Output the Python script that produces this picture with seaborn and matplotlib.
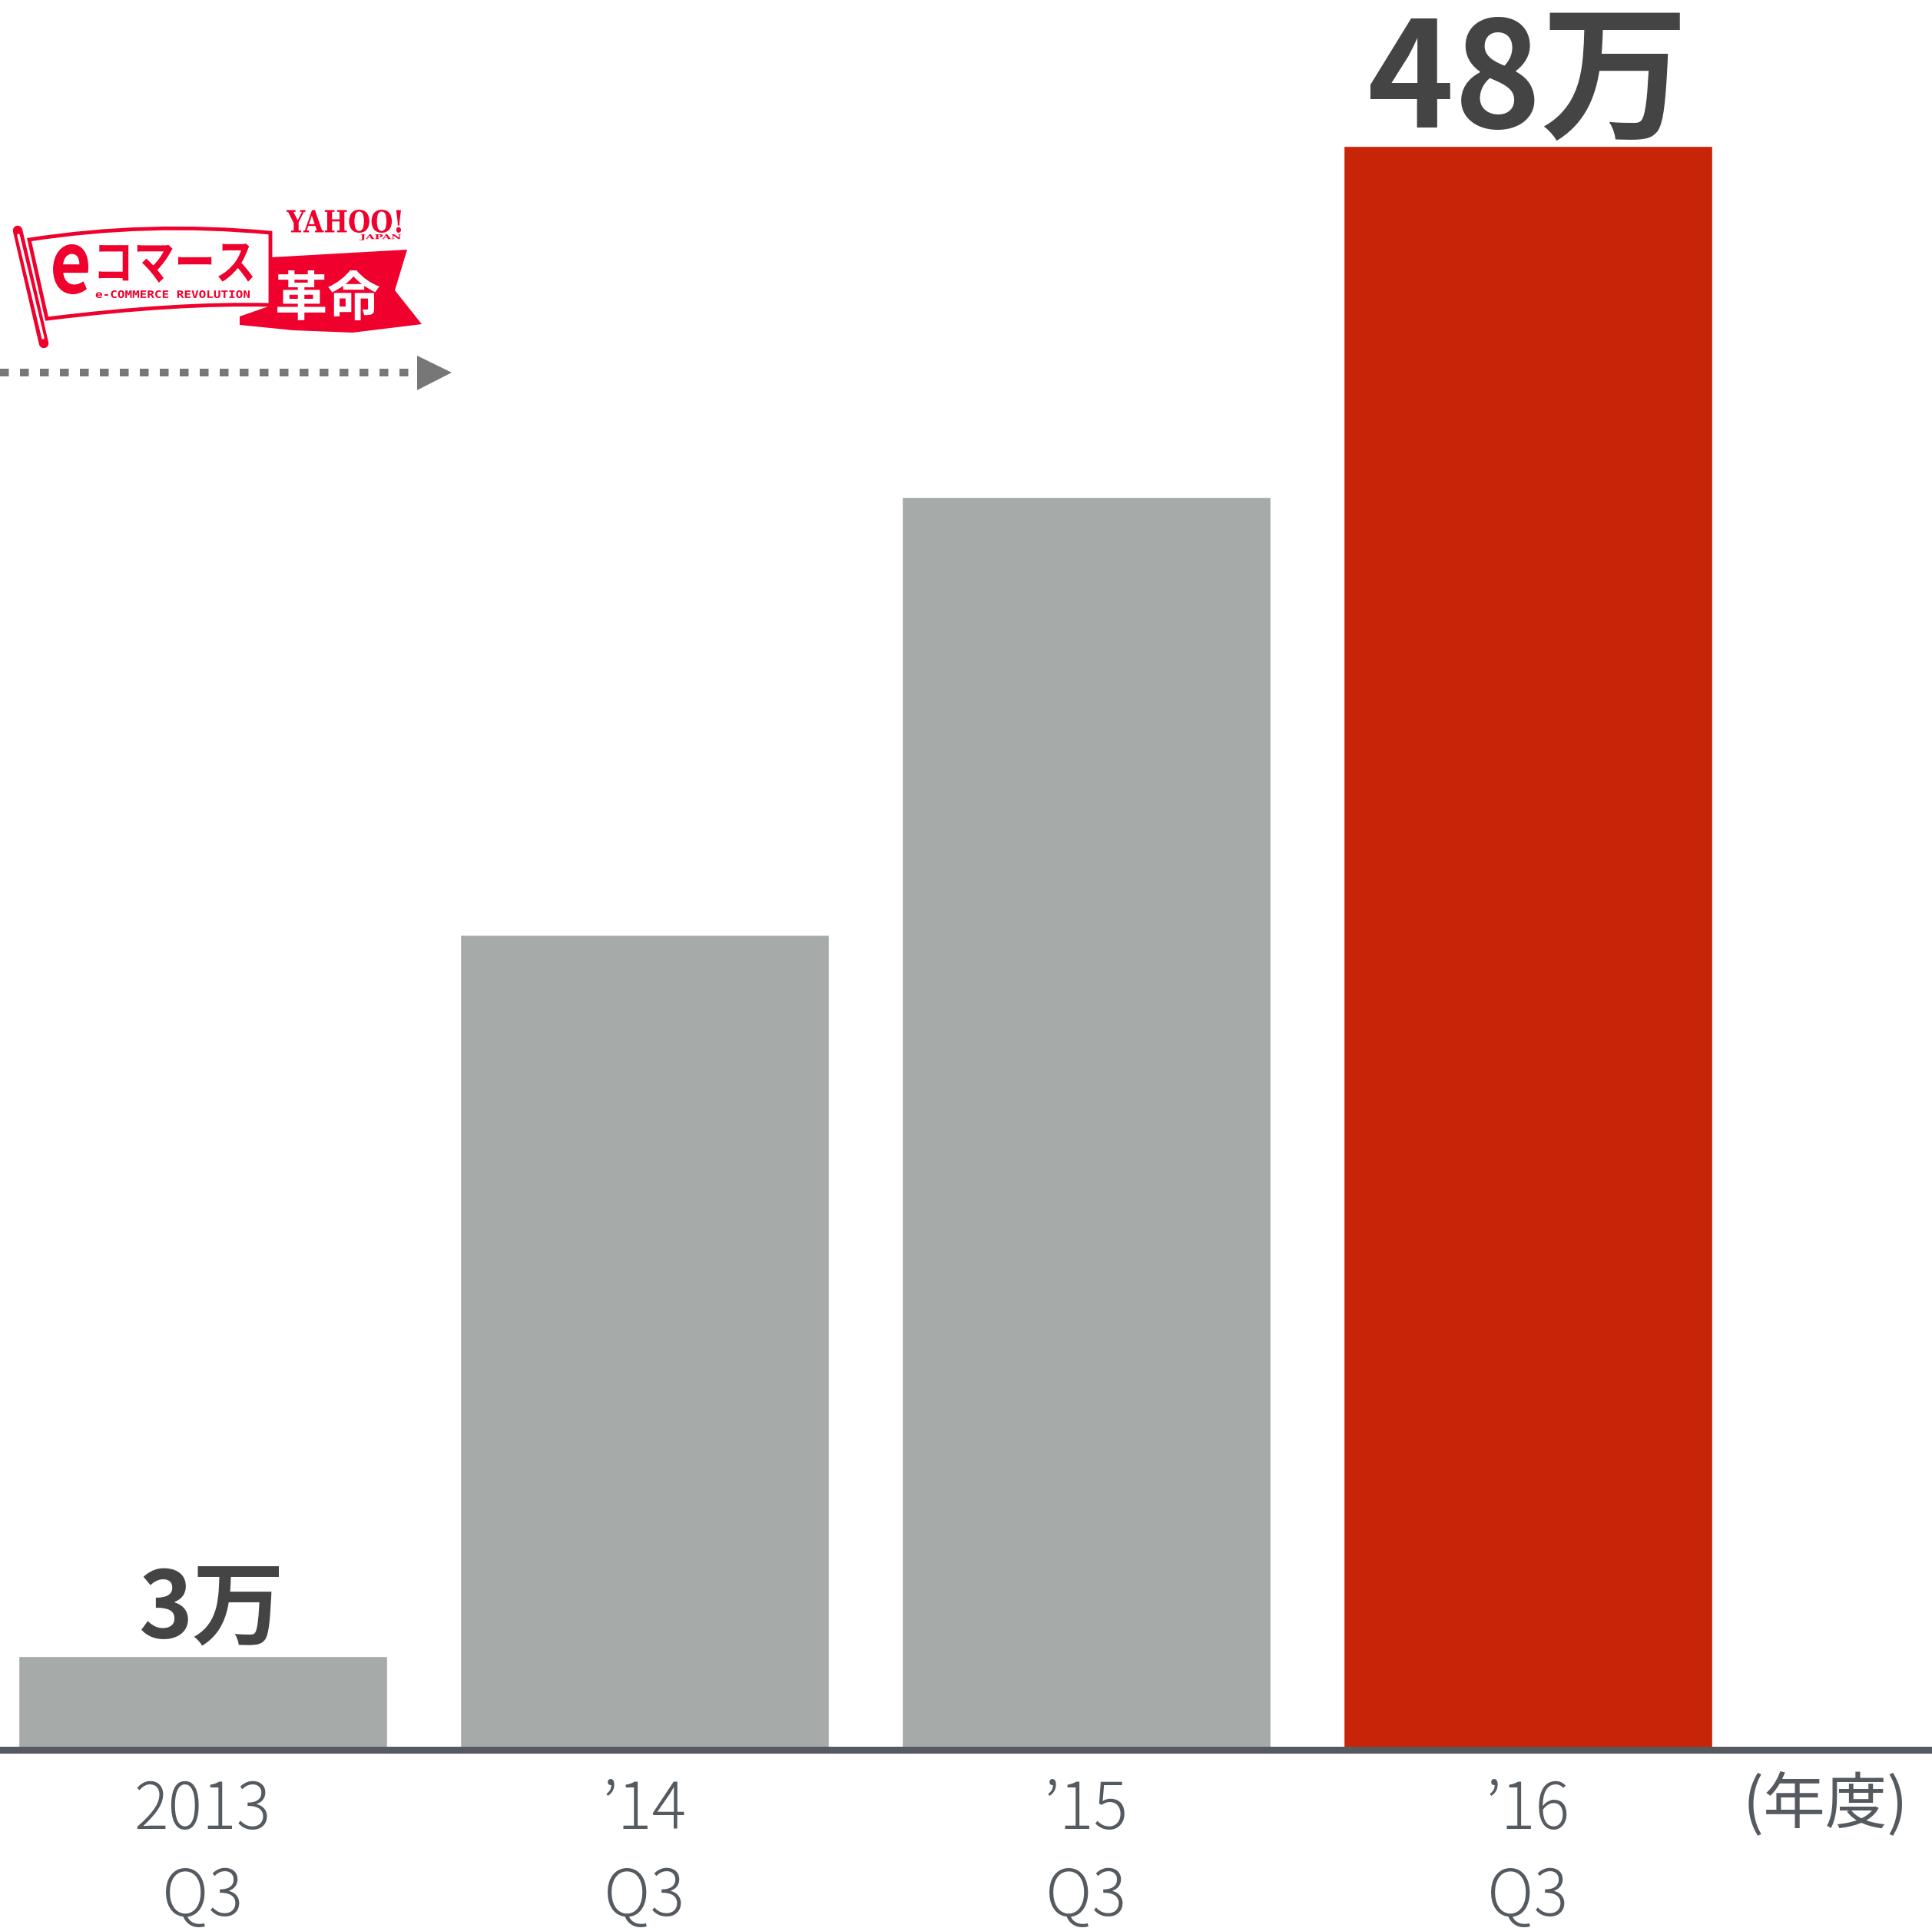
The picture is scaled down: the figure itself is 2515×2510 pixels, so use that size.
import matplotlib
matplotlib.use("Agg")
import matplotlib.pyplot as plt
import seaborn as sns
import pandas as pd
import numpy as np
from matplotlib.patches import Polygon, PathPatch
from matplotlib.path import Path
from matplotlib.textpath import TextPath
from matplotlib.font_manager import FontProperties

# ---- data ----
categories = ["2013\nQ3", "\u201914\nQ3", "\u201915\nQ3", "\u201916\nQ3"]
values = [2.8, 24.4, 37.5, 48.0]
bar_colors = ["#a6aaa9", "#a6aaa9", "#a6aaa9", "#c82408"]
value_labels = {0: "3万", 3: "48万"}
unit_label = "(年度)"

W, H = 2515, 2510
DPI = 100
sns.set_theme(style="white")
plt.rcParams['font.family'] = ['Noto Sans CJK JP', 'DejaVu Sans']

fig = plt.figure(figsize=(W / DPI, H / DPI), dpi=DPI)
base_px = 2278
ax = fig.add_axes([0, 1 - base_px / H, 1, base_px / H])

df = pd.DataFrame({"cat": categories, "val": values})
sns.barplot(data=df, x="cat", y="val", hue="cat", palette=bar_colors,
            width=0.834, saturation=1, legend=False, ax=ax, zorder=2)

px_per_unit = 2088 / 48.0
ax.set_ylim(0, base_px / px_per_unit)
ax.set_xlim(-0.459, 3.915)
for s in ["top", "right", "left"]:
    ax.spines[s].set_visible(False)
ax.spines["bottom"].set_color("#555a60")
ax.spines["bottom"].set_linewidth(9 * 72 / DPI)
ax.spines["bottom"].set_zorder(3)
ax.set_yticks([])
ax.set_xlabel("")
ax.set_ylabel("")
ax.tick_params(axis="x", length=0, pad=26, labelsize=60, colors="#555a60")
for lab in ax.get_xticklabels():
    lab.set_linespacing(1.38)
    lab.set_fontweight("light")

# value labels
u = 1 / px_per_unit
ax.text(0.02, values[0] + 25 * u, value_labels[0], ha="center", va="baseline",
        fontsize=86, fontweight="bold", color="#444444")
ax.text(3.0, values[3] + 24 * u, value_labels[3], ha="center", va="baseline",
        fontsize=138, fontweight="bold", color="#444444")

ax.text(3.673, -71 * u, unit_label, ha="center", va="center",
        fontsize=58, color="#555a60", clip_on=False)

# ---- logo overlay in pixel coords ----
ov = fig.add_axes([0, 0, 1, 1], zorder=5)
ov.set_xlim(0, W)
ov.set_ylim(H, 0)
ov.axis("off")
ov.patch.set_alpha(0)

RED = "#f0002d"


def fit_text(s, box, color, fp):
    x0, y0, x1, y1 = box
    tp = TextPath((0, 0), s, size=100, prop=fp)
    v = tp.vertices.copy()
    mnx, mny = v.min(axis=0)
    mxx, mxy = v.max(axis=0)
    nv = np.empty_like(v)
    nv[:, 0] = x0 + (v[:, 0] - mnx) / (mxx - mnx) * (x1 - x0)
    nv[:, 1] = y1 - (v[:, 1] - mny) / (mxy - mny) * (y1 - y0)
    ov.add_patch(PathPatch(Path(nv, tp.codes), facecolor=color, edgecolor="none", lw=0))


# ribbon
rib = [(352, 335), (530, 325), (514, 378), (549, 422), (459, 433),
       (382, 430), (312, 423), (312, 412), (352, 398)]
ov.add_patch(Polygon(rib, closed=True, facecolor=RED, edgecolor="none"))

# flag body
verts = [(38, 312), (192, 288), (352, 303), (352, 397), (230, 394), (61, 415), (38, 312)]
codes = [Path.MOVETO, Path.CURVE3, Path.CURVE3, Path.LINETO, Path.CURVE3, Path.CURVE3, Path.CLOSEPOLY]
ov.add_patch(PathPatch(Path(verts, codes), facecolor="white", edgecolor=RED, lw=3.5))

# pole
ov.plot([23, 57], [300, 447], color=RED, lw=9, solid_capstyle="round")
ov.plot([24, 56], [306, 440], color="white", lw=2.5)

bold_cjk = FontProperties(family="Noto Sans CJK JP", weight="bold")
fit_text("e", (65, 318, 115, 383), RED, bold_cjk)
fit_text("コマース", (121, 317, 329, 368), RED, bold_cjk)
fit_text("e-COMMERCE REVOLUTION", (124, 378, 325, 388), RED,
         FontProperties(family="DejaVu Sans Mono", weight="bold"))
fit_text("革命", (358, 352, 494, 417), "white", bold_cjk)
serif_b = FontProperties(family="DejaVu Serif", weight="bold")
fit_text("YAHOO!", (373, 273, 522, 303), RED, serif_b)
fit_text("JAPAN", (468, 305, 522, 313), RED, serif_b)

# dotted arrow
ov.plot([0, 537], [485, 485], color="#777777", lw=10 * 72 / DPI,
        linestyle=(0, (1.15, 1.45)), solid_capstyle="butt", dash_capstyle="butt")
ov.add_patch(Polygon([(543, 463), (588, 485), (543, 508)], closed=True,
                     facecolor="#777777", edgecolor="none"))

fig.savefig("out.png", dpi=DPI, facecolor="white")
